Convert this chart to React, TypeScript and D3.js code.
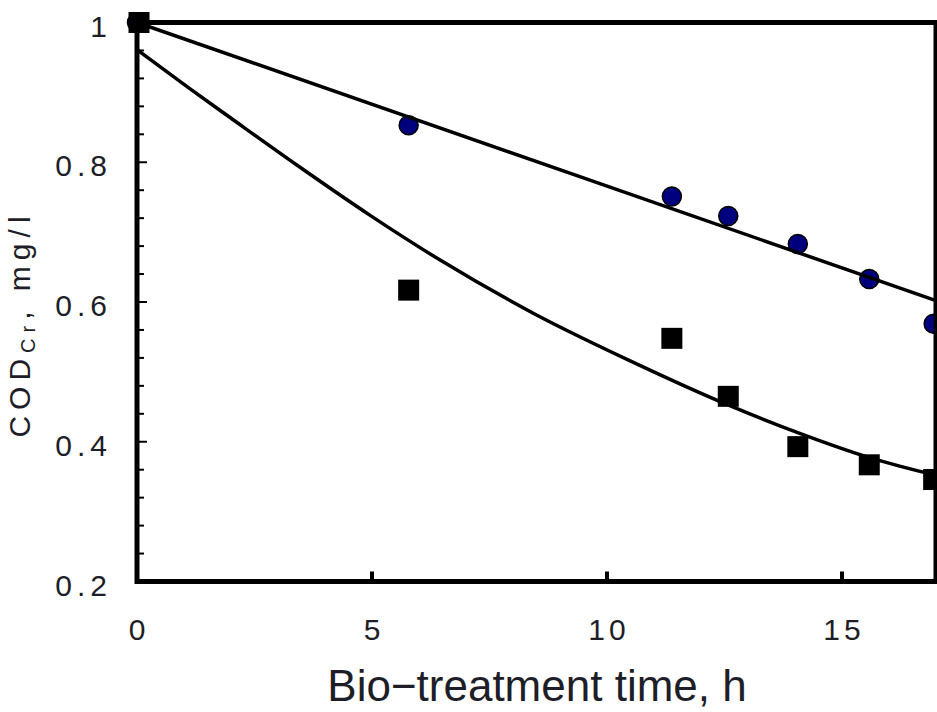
import * as d3 from 'd3'

// sampling times (h) and measured COD (normalised)
const timeH = [0, 5.78, 11.38, 12.58, 14.06, 15.58, 16.95]
const codCircles = [1.0, 0.853, 0.751, 0.723, 0.683, 0.633, 0.569]
const codSquares = [1.0, 0.617, 0.548, 0.465, 0.393, 0.367, 0.346]

// fitted curves
const upperFitTime = [0, 17]
const upperFitCod = [1.0, 0.602]
const lowerFitTime = [0, 1.13, 1.98, 3.4, 4.96, 6.45, 8.43, 10.55, 12.6, 14.1, 15.6, 17]
const lowerFitCod = [0.961, 0.905, 0.864, 0.796, 0.724, 0.66, 0.584, 0.514, 0.452, 0.412, 0.377, 0.352]

const xTicks = [0, 5, 10, 15]
const yTicks = [0.2, 0.4, 0.6, 0.8, 1]

const W = 937
const H = 712
const FONT = '"Liberation Sans", Arial, sans-serif'
const TEXT = '#1e1e28'

export default function App() {
  const x = d3.scaleLinear().domain([0, 17]).range([137, 936])
  const y = d3.scaleLinear().domain([0.2, 1]).range([581.5, 22.5])

  const line = d3.line<[number, number]>()
    .x(d => x(d[0]))
    .y(d => y(d[1]))
    .curve(d3.curveMonotoneX)

  const upper = upperFitTime.map((t, i) => [t, upperFitCod[i]] as [number, number])
  const lower = lowerFitTime.map((t, i) => [t, lowerFitCod[i]] as [number, number])

  const minorY = d3.range(0.2, 1.001, 0.04)
    .filter(v => Math.abs(v * 5 - Math.round(v * 5)) > 1e-6)

  const x0 = x(0)
  const y0 = y(0.2)

  return (
    <svg width={W} height={H} style={{ position: 'absolute', left: 0, top: 0, background: '#fff' }}>
      {/* y ticks (inward) */}
      {minorY.map(v => (
        <line key={'m' + v} x1={x0} x2={x0 + 7} y1={y(v)} y2={y(v)} stroke="#000" strokeWidth={2} />
      ))}
      {yTicks.map(v => (
        <line key={'M' + v} x1={x0} x2={x0 + 10} y1={y(v)} y2={y(v)} stroke="#000" strokeWidth={2} />
      ))}
      {xTicks.filter(v => v > 0).map(v => (
        <line key={'x' + v} x1={x(v)} x2={x(v)} y1={y0} y2={y0 - 10} stroke="#000" strokeWidth={4} />
      ))}

      {/* markers */}
      {timeH.map((t, i) => (
        <circle key={'c' + i} cx={x(t)} cy={y(codCircles[i])} r={9.5}
          fill="#00007f" stroke="#000" strokeWidth={1.5} />
      ))}
      {timeH.map((t, i) => (
        <rect key={'s' + i} x={x(t) - 10.5 + (i === 0 ? 2 : 0)} y={y(codSquares[i]) - 10.5}
          width={21} height={21} fill="#000" />
      ))}

      {/* fitted lines */}
      <path d={line(upper) || ''} fill="none" stroke="#000" strokeWidth={3.5} />
      <path d={line(lower) || ''} fill="none" stroke="#000" strokeWidth={3.5} />

      {/* frame */}
      <rect x={x0} y={y(1)} width={x(17) - x0} height={y0 - y(1)}
        fill="none" stroke="#000" strokeWidth={5} />

      {/* tick labels */}
      {yTicks.map(v => (
        <text key={'yl' + v} x={112} y={y(v) + 14} textAnchor="end"
          fontFamily={FONT} fontSize={30} letterSpacing={5} fill={TEXT}>
          {String(v)}
        </text>
      ))}
      {xTicks.map(v => (
        <text key={'xl' + v} x={x(v) + 2} y={640} textAnchor="middle"
          fontFamily={FONT} fontSize={30} letterSpacing={4} fill={TEXT}>
          {String(v)}
        </text>
      ))}

      {/* axis titles */}
      <text x={537} y={701} textAnchor="middle" fontFamily={FONT} fontSize={44} fill={TEXT}>
        Bio−treatment time, h
      </text>
      <text transform="translate(30,324) rotate(-90)" textAnchor="middle"
        fontFamily={FONT} fontSize={30} letterSpacing={6} fill={TEXT}>
        COD<tspan fontSize={20} dy={5}>Cr</tspan><tspan dy={-5}>, mg/l</tspan>
      </text>
    </svg>
  )
}
